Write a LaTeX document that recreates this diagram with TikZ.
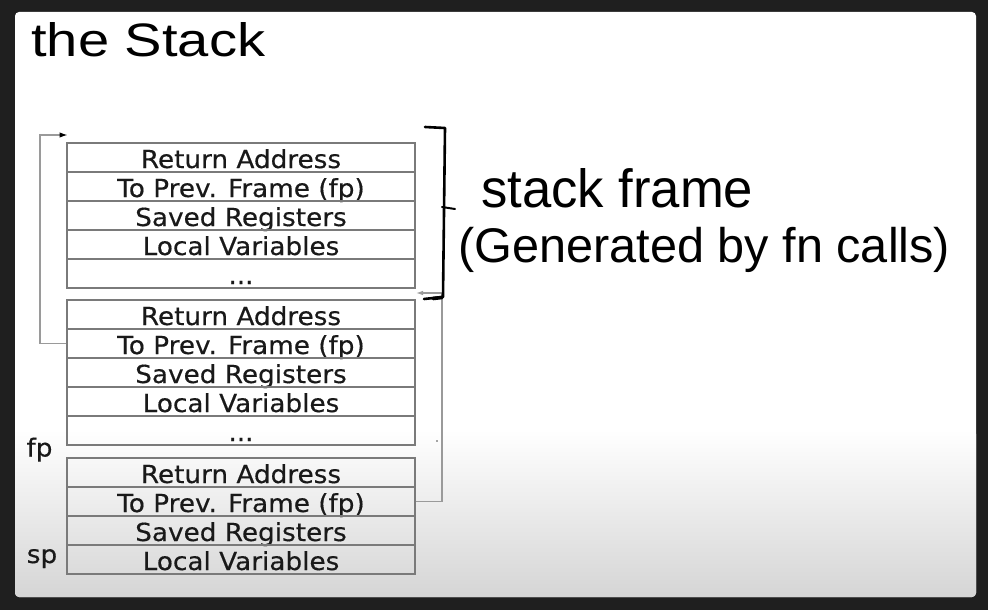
\documentclass[tikz,border=0pt]{standalone}
\usepackage{fontspec}
\usepackage{graphicx}
\usetikzlibrary{arrows.meta}
\newfontfamily\boxfont[FakeStretch=1.06,FakeBold=0.4]{DejaVu Sans}
\newfontfamily\handfont{Liberation Sans}
\definecolor{bgdark}{HTML}{1F1F1F}
\definecolor{panelbot}{HTML}{D5D5D5}
\definecolor{cellline}{HTML}{7A7A7A}
\definecolor{linkline}{HTML}{9A9A9A}
\begin{document}
\begin{tikzpicture}[x=1pt,y=-1pt,
  cell/.style={draw=cellline, line width=1.3pt, rectangle, minimum width=348pt,
    minimum height=29pt, inner sep=0pt, text height=25pt, text depth=4pt,
    font=\boxfont\fontsize{24.8}{25}\selectfont, text=black!90},
  reglabel/.style={anchor=base, inner sep=0pt, font=\boxfont\fontsize{24.8}{25}\selectfont, text=black!90},
  link/.style={draw=linkline, line width=1.2pt},
  hand/.style={draw=black, line width=2.6pt, line cap=round, line join=round},
  handtext/.style={inner sep=0pt, text=black}]
\useasboundingbox (0,0) rectangle (988,610);
\fill[bgdark] (0,0) rectangle (988,610);
\fill[white, rounded corners=4pt] (15,12) rectangle (976,597);
\shade[top color=white, bottom color=panelbot, rounded corners=4pt]
  (15,430) -- (15,597) -- (976,597) -- (976,430) -- cycle;

% frame 1
\node[cell] (fa1) at (241,157.5) {Return Address};
\node[cell] (fa2) at (241,186.5) {To Prev. Frame (fp)};
\node[cell] (fa3) at (241,215.5) {Saved Registers};
\node[cell] (fa4) at (241,244.5) {Local Variables};
\node[cell] (fa5) at (241,273.5) {...};
% frame 2
\node[cell] (fb1) at (241,314.5) {Return Address};
\node[cell] (fb2) at (241,343.5) {To Prev. Frame (fp)};
\node[cell] (fb3) at (241,372.5) {Saved Registers};
\node[cell] (fb4) at (241,401.5) {Local Variables};
\node[cell] (fb5) at (241,430.5) {...};
% frame 3
\node[cell] (fc1) at (241,472.5) {Return Address};
\node[cell] (fc2) at (241,501.5) {To Prev. Frame (fp)};
\node[cell] (fc3) at (241,530.5) {Saved Registers};
\node[cell] (fc4) at (241,559.5) {Local Variables};

% register labels
\node[reglabel] (fp) at (39.5,456.5) {fp};
\node[reglabel] (sp) at (42,563) {sp};

% connectors
\coordinate (topin) at (67.5,135);
\coordinate (retin) at (416,293);
\draw[link, -{Latex[length=8pt,width=5.5pt,black]}] (fb2.west) -- (40,343.5) |- (topin);
\draw[link, -{Latex[length=7pt,width=4.5pt]}] (fc2.east) -- (442,501.5) |- (retin);
\fill[black!70] (437,441) circle (0.9pt);

% hand-drawn bracket
\draw[hand] (425,127) -- (445,128) -- (443,297) -- (424,299);
\draw[hand, line width=3.6pt] (433,298.5) -- (442,297.5);
\draw[hand, line width=2pt] (442,207) -- (455,209);

% handwritten labels
\node[handtext, anchor=base west] (title) at (31,57) {\resizebox{234pt}{34pt}{\handfont the Stack}};
\node[handtext, anchor=base west] (sf) at (481,207) {\resizebox{272pt}{39pt}{\handfont stack frame}};
\node[handtext, anchor=base west] (gen) at (458,262) {\resizebox{492pt}{!}{\handfont (Generated by fn calls)}};
\end{tikzpicture}
\end{document}
